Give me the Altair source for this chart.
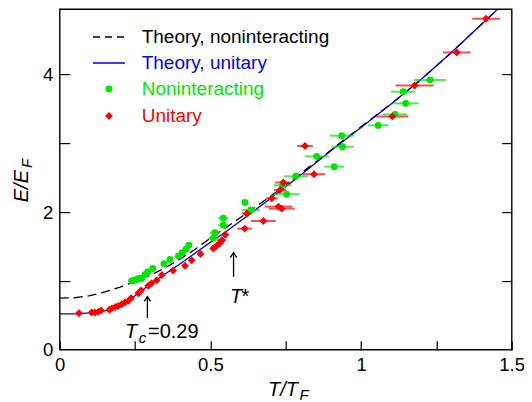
import altair as alt
import pandas as pd

# ---------------- data ----------------
T_theory = [0.00, 0.05, 0.10, 0.15, 0.20, 0.25, 0.30, 0.35, 0.40, 0.45, 0.50,
            0.55, 0.60, 0.70, 0.80, 0.90, 1.00, 1.10, 1.20, 1.30, 1.40, 1.50]
E_theory_nonint = [0.75, 0.755, 0.785, 0.84, 0.91, 0.99, 1.08, 1.19, 1.32, 1.46, 1.62,
                   1.77, 1.92, 2.23, 2.56, 2.90, 3.24, 3.575, 3.93, 4.32, 4.73, 5.14]
E_theory_unitary = [0.52, 0.52, 0.535, 0.565, 0.645, 0.785, 0.95, 1.10, 1.25, 1.405, 1.56,
                    1.71, 1.87, 2.20, 2.54, 2.89, 3.23, 3.57, 3.93, 4.32, 4.73, 5.14]

T_unit = [0.064, 0.106, 0.117, 0.128, 0.137, 0.165, 0.173, 0.184, 0.194, 0.206, 0.217,
          0.228, 0.237, 0.261, 0.270, 0.294, 0.305, 0.322, 0.339, 0.376, 0.416, 0.438,
          0.467, 0.510, 0.521, 0.532, 0.538, 0.549, 0.614, 0.621, 0.676, 0.704, 0.726,
          0.737, 0.731, 0.742, 0.814, 0.844, 1.104, 1.178, 1.318, 1.415]
E_unit = [0.53, 0.54, 0.54, 0.55, 0.57, 0.58, 0.60, 0.62, 0.635, 0.66, 0.69,
          0.71, 0.75, 0.82, 0.86, 0.93, 0.965, 1.01, 1.085, 1.15, 1.22, 1.30,
          1.39, 1.47, 1.51, 1.55, 1.59, 1.67, 1.76, 1.98, 1.87, 2.20, 2.08,
          2.05, 2.32, 2.43, 2.96, 2.55, 3.39, 3.84, 4.32, 4.81]
dT_unit = [0] * 23 + [0.012, 0.014, 0.012, 0.015, 0.012, 0.025, 0.017, 0.041, 0.02, 0.046,
                      0.043, 0.02, 0.027, 0.026, 0.037, 0.053, 0.063, 0.046, 0.046]

T_non = [0.239, 0.247, 0.256, 0.263, 0.272, 0.283, 0.292, 0.309, 0.346, 0.366, 0.394,
         0.406, 0.419, 0.429, 0.510, 0.515, 0.543, 0.543, 0.615, 0.634, 0.740, 0.753,
         0.784, 0.853, 0.911, 0.936, 0.939, 1.057, 1.113, 1.148, 1.140, 1.229]
E_non = [1.00, 1.01, 1.02, 1.035, 1.04, 1.09, 1.13, 1.18, 1.25, 1.31, 1.36,
         1.41, 1.46, 1.52, 1.62, 1.70, 1.81, 1.91, 2.14, 2.03, 2.39, 2.26,
         2.52, 2.81, 2.66, 3.11, 2.95, 3.26, 3.42, 3.58, 3.75, 3.92]
dT_non = [0] * 14 + [0.017, 0.017, 0.017, 0.017, 0, 0.03, 0.03, 0.043, 0.04, 0.04,
                     0.033, 0.04, 0.037, 0.035, 0.04, 0.043, 0.04, 0.053]

# annotation arrows (T position, tail E, head E)
arrow_T = [0.291, 0.577]
arrow_E_tail = [0.46, 1.06]
arrow_E_head = [0.77, 1.41]

legend_labels = ["Theory, noninteracting", "Theory, unitary", "Noninteracting", "Unitary"]

x_ticks_major = [0, 0.5, 1, 1.5]
x_ticks_minor = [0, 0.25, 0.5, 0.75, 1, 1.25, 1.5]
y_ticks_major = [0, 2, 4]
y_ticks_minor = [1, 2, 3, 4]

# ---------------- styles ----------------
FONT = "Liberation Sans"
GREEN = "#00e600"
RED = "#ff0000"
BLUE = "#0000d8"
W, H = 452, 340.6
YMAX = 4.95

xs = alt.Scale(domain=[0, 1.5], nice=False, zero=False)
ys = alt.Scale(domain=[0, YMAX], nice=False, zero=False)

theory = pd.DataFrame({"T": T_theory, "Enon": E_theory_nonint, "Euni": E_theory_unitary})
uni = pd.DataFrame({"T": T_unit, "E": E_unit, "dT": dT_unit})
uni["lo"] = uni["T"] - uni["dT"]
uni["hi"] = uni["T"] + uni["dT"]
non = pd.DataFrame({"T": T_non, "E": E_non, "dT": dT_non})
non["lo"] = non["T"] - non["dT"]
non["hi"] = non["T"] + non["dT"]
arrows = pd.DataFrame({"T": arrow_T, "E0": arrow_E_tail, "E1": arrow_E_head})

main_x_axis = alt.Axis(values=x_ticks_major, ticks=False, domain=False, grid=False,
                       labelFont=FONT, labelFontSize=18.5, labelColor="black",
                       labelPadding=6, labelFlush=False, labelOverlap=False,
                       labelBound=False, format="~g", title=None, orient="bottom")
main_y_axis = alt.Axis(values=y_ticks_major, ticks=False, domain=False, grid=False,
                       labelFont=FONT, labelFontSize=18.5, labelColor="black",
                       labelPadding=7, labelFlush=False, labelOverlap=False,
                       labelBound=False, format="~g", title=None, orient="left")
inner_x_axis = alt.Axis(values=x_ticks_minor, labels=False, domain=False, grid=False,
                        ticks=True, tickSize=9, tickColor="black", tickWidth=1.2,
                        orient="top", offset=-H, title=None)
inner_yl_axis = alt.Axis(values=y_ticks_minor, labels=False, domain=False, grid=False,
                         ticks=True, tickSize=10, tickColor="black", tickWidth=1.2,
                         orient="right", offset=-W, title=None)
inner_yr_axis = alt.Axis(values=y_ticks_minor, labels=False, domain=False, grid=False,
                         ticks=True, tickSize=10, tickColor="black", tickWidth=1.2,
                         orient="left", offset=-W, title=None)

dashed = alt.Chart(theory).mark_line(color="black", strokeDash=[9, 5], strokeWidth=1.3,
                                     clip=True).encode(
    x=alt.X("T:Q", scale=xs, axis=main_x_axis),
    y=alt.Y("Enon:Q", scale=ys, axis=main_y_axis),
)
solid = alt.Chart(theory).mark_line(color=BLUE, strokeWidth=1.3, clip=True).encode(
    x=alt.X("T:Q", scale=xs, axis=inner_x_axis),
    y=alt.Y("Euni:Q", scale=ys, axis=inner_yl_axis),
)
non_err = alt.Chart(non[non["dT"] > 0]).mark_rule(color=GREEN, strokeWidth=2, opacity=0.7).encode(
    x=alt.X("lo:Q", scale=xs, axis=None), x2="hi:Q",
    y=alt.Y("E:Q", scale=ys, axis=inner_yr_axis),
)
uni_err = alt.Chart(uni[uni["dT"] > 0]).mark_rule(color=RED, strokeWidth=2, opacity=0.7).encode(
    x=alt.X("lo:Q", scale=xs, axis=None), x2="hi:Q",
    y=alt.Y("E:Q", scale=ys, axis=None),
)
non_pts = alt.Chart(non).mark_point(shape="circle", filled=True, color=GREEN, size=48,
                                    opacity=1).encode(
    x=alt.X("T:Q", scale=xs, axis=None),
    y=alt.Y("E:Q", scale=ys, axis=None),
)
uni_pts = alt.Chart(uni).mark_point(shape="diamond", filled=True, color=RED, size=62,
                                    opacity=1).encode(
    x=alt.X("T:Q", scale=xs, axis=None),
    y=alt.Y("E:Q", scale=ys, axis=None),
)
arrow_shaft = alt.Chart(arrows).mark_rule(color="black", strokeWidth=1.3).encode(
    x=alt.X("T:Q", scale=xs, axis=None),
    y=alt.Y("E0:Q", scale=ys, axis=None), y2="E1:Q",
)
arrow_head = alt.Chart(arrows).mark_point(shape="M-1,1.5L0,0L1,1.5", filled=False,
                                          color="black", strokeWidth=1.3, size=40,
                                          opacity=1).encode(
    x=alt.X("T:Q", scale=xs, axis=None),
    y=alt.Y("E1:Q", scale=ys, axis=None),
)

# annotation texts
ann = pd.DataFrame({
    "T": [0.217, 0.262, 0.293, 0.565, 0.603],
    "E": [0.17, 0.10, 0.17, 0.68, 0.68],
    "txt": ["T", "c", "=0.29", "T", "*"],
    "style": ["italic", "italic", "normal", "italic", "normal"],
    "fs": [20, 15, 20, 20, 20],
})
ann_layers = []
for i in range(len(ann)):
    row = ann.iloc[[i]]
    ann_layers.append(
        alt.Chart(row).mark_text(align="left", baseline="alphabetic", font=FONT,
                                 fontSize=float(row["fs"].iloc[0]),
                                 fontStyle=row["style"].iloc[0], color="black").encode(
            x=alt.X("T:Q", scale=xs, axis=None),
            y=alt.Y("E:Q", scale=ys, axis=None),
            text="txt:N",
        )
    )

# axis titles (with subscripts)
def label_text(txt, x, y, size, style="italic", angle=0, align="left"):
    d = pd.DataFrame({"t": [txt]})
    return alt.Chart(d).mark_text(align=align, baseline="alphabetic", font=FONT,
                                  fontSize=size, fontStyle=style, angle=angle,
                                  color="black").encode(
        x=alt.value(x), y=alt.value(y), text="t:N")

titles = [
    label_text("T/T", 208.3, 387.0, 20),
    label_text("F", 239.8, 390.5, 15),
    label_text("E/E", -31.7, 160.9, 20, angle=270, align="right"),
    label_text("F", -27.5, 158.9, 15, angle=270, align="left"),
]

# manual legend
leg_rows_y = [27.9, 53.9, 79.9, 106.9]
leg_colors = ["black", "#0000ff", GREEN, RED]
leg = []
leg.append(alt.Chart(pd.DataFrame({"k": [0]})).mark_rule(color="black", strokeDash=[7, 5],
                                                         strokeWidth=1.3).encode(
    x=alt.value(33.3), x2=alt.value(65.3), y=alt.value(leg_rows_y[0])))
leg.append(alt.Chart(pd.DataFrame({"k": [0]})).mark_rule(color=BLUE, strokeWidth=1.3).encode(
    x=alt.value(33.3), x2=alt.value(65.3), y=alt.value(leg_rows_y[1])))
leg.append(alt.Chart(pd.DataFrame({"k": [0]})).mark_point(shape="circle", filled=True,
                                                          color=GREEN, size=48, opacity=1).encode(
    x=alt.value(49.3), y=alt.value(leg_rows_y[2])))
leg.append(alt.Chart(pd.DataFrame({"k": [0]})).mark_point(shape="diamond", filled=True,
                                                          color=RED, size=62, opacity=1).encode(
    x=alt.value(49.3), y=alt.value(leg_rows_y[3])))
for lab, yy, col in zip(legend_labels, leg_rows_y, leg_colors):
    leg.append(alt.Chart(pd.DataFrame({"t": [lab]})).mark_text(
        align="left", baseline="middle", font=FONT, fontSize=19, color=col).encode(
        x=alt.value(82), y=alt.value(yy), text="t:N"))

chart = alt.layer(
    dashed, solid, non_err, uni_err, non_pts, uni_pts, arrow_shaft, arrow_head,
    *ann_layers, *titles, *leg
).resolve_axis(x="independent", y="independent").properties(
    width=W, height=H,
    autosize=alt.AutoSizeParams(type="none"),
    padding={"left": 51.7, "top": 1.1, "right": 12, "bottom": 53},
    background="white",
).configure_view(stroke="black", strokeWidth=1.4)

chart.save("out.html", embed_options={"renderer": "svg", "actions": False})
